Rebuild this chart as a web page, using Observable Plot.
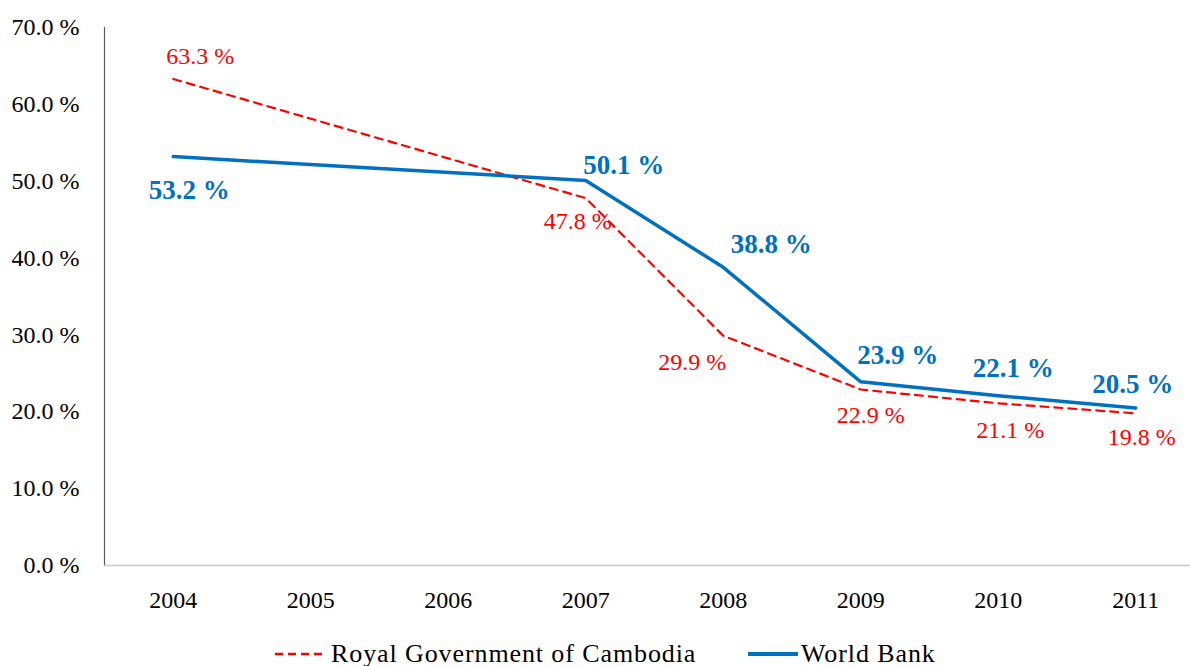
<!DOCTYPE html>
<html><head><meta charset="utf-8">
<script src="https://cdn.jsdelivr.net/npm/d3@7"></script>
<script src="https://cdn.jsdelivr.net/npm/@observablehq/plot@0.6"></script>
<style>
body{margin:0;background:#fff;width:1190px;height:666px;overflow:hidden;font-family:"Liberation Serif",serif;}
#legend{position:absolute;left:0;top:639px;width:1190px;height:27px;}
.item{position:absolute;top:0;display:flex;align-items:center;font-size:26px;letter-spacing:0.9px;color:#000;height:30px;}
</style></head><body>
<div id="chart"></div>
<div id="legend">
  <div class="item" style="left:275px"><svg width="48" height="10"><line x1="0" y1="5" x2="48" y2="5" stroke="#FF0000" stroke-width="2.5" stroke-dasharray="8,5"/></svg><span style="margin-left:8px">Royal Government of Cambodia</span></div>
  <div class="item" style="left:748px"><svg width="50" height="10"><line x1="0" y1="5" x2="50" y2="5" stroke="#0070C0" stroke-width="4"/></svg><span style="margin-left:3px">World Bank</span></div>
</div>
<script>
const years = [2004, 2007, 2008, 2009, 2010, 2011];
const rgcValues = [63.3, 47.8, 29.9, 22.9, 21.1, 19.8];
const wbValues = [53.2, 50.1, 38.8, 23.9, 22.1, 20.5];
const xTicks = [2004, 2005, 2006, 2007, 2008, 2009, 2010, 2011];
const yTicks = [0, 10, 20, 30, 40, 50, 60, 70];

// label pixel offsets (layout only)
const rgcOffsets = [[27,-23],[-8,23],[-31,27],[10,26],[12,27],[6,24]];
const wbOffsets = [[16,34],[38,-15],[48,-23],[37,-26],[15,-27],[-3,-24]];

const rgc = years.map((y,i)=>({year:y, value:rgcValues[i]}));
const wb = years.map((y,i)=>({year:y, value:wbValues[i]}));
const fmt = v => v.toFixed(1) + " %";

const labelMarks = [];
rgc.forEach((d,i)=>labelMarks.push(Plot.text([d],{x:"year",y:"value",text:d=>fmt(d.value),fill:"#FF0000",fontSize:24,dx:rgcOffsets[i][0],dy:rgcOffsets[i][1]})));
wb.forEach((d,i)=>labelMarks.push(Plot.text([d],{x:"year",y:"value",text:d=>fmt(d.value),fill:"#0070C0",fontSize:27,fontWeight:"bold",dx:wbOffsets[i][0],dy:wbOffsets[i][1]})));

const chart = Plot.plot({
  width:1190, height:638,
  marginLeft:104, marginTop:27, marginBottom:73, marginRight:-14,
  style:{fontFamily:"Liberation Serif",fontSize:"24px",color:"#000",background:"#fff"},
  x:{type:"linear",domain:[2003.5,2011.5],ticks:xTicks,tickFormat:d=>String(d),label:null},
  y:{domain:[0,70],ticks:yTicks,tickFormat:fmt,label:null},
  marks:[
    Plot.axisX({ticks:xTicks,tickFormat:d=>String(d),tickSize:0,tickPadding:25,fontSize:24,label:null}),
    Plot.axisY({ticks:yTicks,tickFormat:fmt,tickSize:0,tickPadding:25,fontSize:24,label:null}),
    Plot.ruleY([0],{stroke:"#C8C8C8",strokeWidth:1.5}),
    Plot.ruleX([2003.5],{y1:0,y2:70,stroke:"#595959",strokeWidth:1.2}),
    Plot.line(rgc,{x:"year",y:"value",stroke:"#FF0000",strokeWidth:2.2,strokeDasharray:"8,6"}),
    Plot.line(wb,{x:"year",y:"value",stroke:"#0070C0",strokeWidth:3.5}),
    ...labelMarks
  ]
});
document.getElementById("chart").appendChild(chart);
</script>
</body></html>
